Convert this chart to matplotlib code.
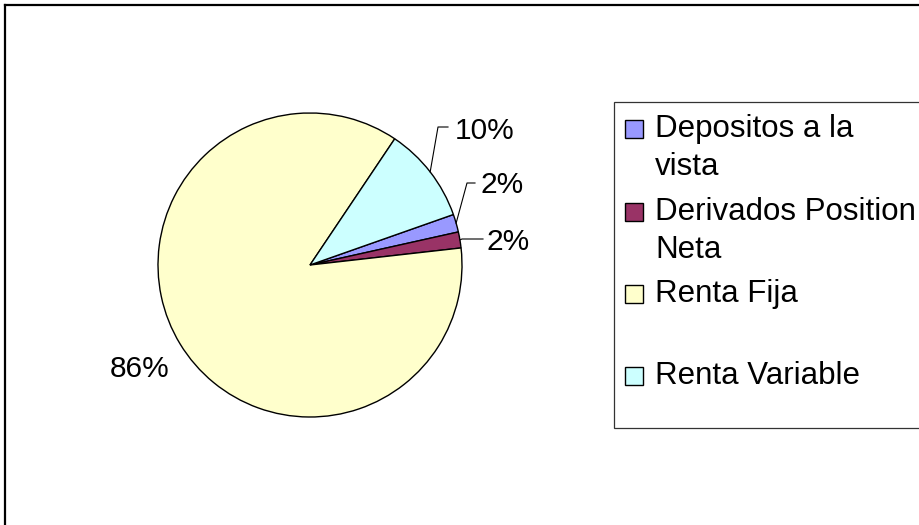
import matplotlib
matplotlib.use("Agg")
import matplotlib.pyplot as plt
from matplotlib.patches import Rectangle
import numpy as np

categories = ["Depositos a la\nvista", "Derivados Position\nNeta", "Renta Fija", "Renta Variable"]
values = [1.9, 1.7, 86.2, 10.2]
colors = ["#9999FF", "#993366", "#FFFFCC", "#CCFFFF"]

W, H = 919, 525
FONT = ["Liberation Sans", "DejaVu Sans"]

fig = plt.figure(figsize=(W / 100, H / 100), dpi=100)
ax = fig.add_axes([0, 0, 1, 1])

wedges, _ = ax.pie(values, colors=colors, startangle=19.4, counterclock=False,
                   center=(310, H - 265), radius=152,
                   wedgeprops=dict(edgecolor="black", linewidth=1.0))
ax.set_xlim(0, W)
ax.set_ylim(0, H)
ax.set_aspect("equal")
ax.axis("off")

# label anchor (text x, baseline y), leader points -- pixel coords, top-left origin
label_pos = [
    ((480, 193), [(467, 183), (475, 183)], "left"),
    ((487, 250), [(462, 239), (483, 239)], "left"),
    ((140, 377), None, "center"),
    ((455, 139), [(438, 127), (448, 127)], "left"),
]
total = sum(values)
for w, v, (txy, leader, ha) in zip(wedges, values, label_pos):
    ang = np.deg2rad((w.theta1 + w.theta2) / 2)
    cx, cy = w.center
    px, py = cx + w.r * np.cos(ang), cy + w.r * np.sin(ang)
    if leader:
        xs = [px] + [x for x, y in leader]
        ys = [py] + [H - y for x, y in leader]
        ax.plot(xs, ys, color="black", lw=0.8)
    ax.text(txy[0], H - txy[1], f"{v / total * 100:.0f}%", ha=ha, va="baseline",
            fontsize=21.5, family=FONT)

# legend drawn by hand to keep the Excel look
ax.add_patch(Rectangle((614, H - 428), 400, 326, facecolor="white",
                       edgecolor="#333333", lw=0.9, clip_on=False))
baselines = [137, 220, 302, 384]
for lab, col, by in zip(categories, colors, baselines):
    ax.add_patch(Rectangle((625, H - by - 1), 18, 18, facecolor=col,
                           edgecolor="black", lw=1.0, clip_on=False))
    for i, line in enumerate(lab.split("\n")):
        ax.text(655, H - (by + i * 38), line, ha="left", va="baseline",
                fontsize=22.5, family=FONT)

# outer chart frame (clipped on right and bottom)
ax.plot([5, W + 5], [H - 5, H - 5], color="black", lw=1.6, clip_on=False)
ax.plot([5, 5], [H - 5, -5], color="black", lw=1.6, clip_on=False)

fig.savefig("out.png", dpi=100)
